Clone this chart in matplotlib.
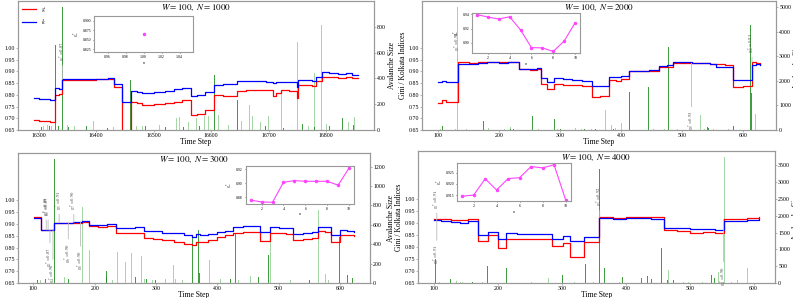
import matplotlib
matplotlib.use('Agg')
import matplotlib.pyplot as plt

plt.rcParams['font.family'] = 'Liberation Serif'
plt.rcParams['mathtext.fontset'] = 'stix'

# ---- panel 1: W=100, N=1000 ----
t1 = [16292, 16300, 16310, 16320, 16329, 16335, 16341, 16360, 16380, 16400, 16420, 16431, 16444,
      16460, 16470, 16480, 16500, 16520, 16535, 16550, 16564, 16575, 16590, 16605, 16620, 16635,
      16645, 16660, 16680, 16695, 16708, 16713, 16722, 16735, 16749, 16751, 16765, 16775, 16783,
      16792, 16805, 16820, 16835, 16845, 16855]
k1 = [0.785, 0.784, 0.782, 0.780, 0.828, 0.826, 0.866, 0.867, 0.866, 0.868, 0.870, 0.845, 0.770,
      0.815, 0.812, 0.808, 0.811, 0.815, 0.823, 0.828, 0.795, 0.800, 0.810, 0.843, 0.846, 0.848,
      0.858, 0.861, 0.860, 0.855, 0.852, 0.856, 0.855, 0.853, 0.835, 0.865, 0.862, 0.858, 0.875,
      0.898, 0.894, 0.890, 0.892, 0.886, 0.885]
g1 = [0.692, 0.690, 0.687, 0.685, 0.800, 0.803, 0.864, 0.864, 0.863, 0.866, 0.868, 0.833, 0.640,
      0.768, 0.766, 0.758, 0.760, 0.763, 0.770, 0.776, 0.712, 0.720, 0.735, 0.800, 0.793, 0.794,
      0.818, 0.820, 0.821, 0.820, 0.795, 0.808, 0.820, 0.818, 0.785, 0.843, 0.840, 0.838, 0.858,
      0.878, 0.876, 0.873, 0.875, 0.871, 0.870]
dark1_t = [16305, 16318, 16329, 16335, 16341, 16352, 16383, 16420, 16446, 16460, 16485, 16520, 16552,
           16580, 16605, 16646, 16694, 16725, 16758, 16780, 16805, 16828, 16848]
dark1_h = [20, 30, 660, 30, 955, 20, 30, 15, 40, 385, 30, 20, 25, 30, 430, 230, 30, 15, 50, 25, 30, 90, 40]
light1_t = [16308, 16315, 16322, 16350, 16362, 16370, 16395, 16410, 16430, 16470, 16480, 16497, 16510,
            16530, 16540, 16545, 16560, 16575, 16588, 16595, 16612, 16617, 16630, 16652, 16667, 16672,
            16685, 16700, 16722, 16750, 16770, 16779, 16792, 16800, 16817, 16838, 16850]
light1_h = [30, 40, 30, 40, 30, 70, 70, 40, 20, 30, 30, 40, 40, 60, 90, 100, 60, 90, 110, 110, 120, 110,
            40, 70, 190, 110, 60, 110, 280, 680, 30, 440, 815, 50, 380, 60, 100]
ins1_n = [1]
ins1_g = [0.865]
ann1 = [(16341, 0.865, 0.985, '$g_1^* = 0.87$')]

# ---- panel 2: W=100, N=2000 ----
t2 = [100, 106, 113, 132, 150, 165, 180, 200, 215, 232, 250, 262, 269, 279, 289, 305, 320, 335, 352, 365,
      380, 391, 400, 413, 430, 445, 462, 475, 484, 500, 515, 530, 545, 555, 570, 583, 600, 614, 620, 627]
k2 = [0.853, 0.860, 0.854, 0.933, 0.930, 0.937, 0.938, 0.936, 0.938, 0.912, 0.910, 0.913, 0.870, 0.855,
      0.872, 0.868, 0.864, 0.860, 0.836, 0.838, 0.874, 0.878, 0.880, 0.900, 0.901, 0.905, 0.922, 0.925,
      0.940, 0.938, 0.936, 0.935, 0.933, 0.920, 0.918, 0.865, 0.862, 0.928, 0.930, 0.928]
g2 = [0.765, 0.780, 0.770, 0.938, 0.936, 0.940, 0.938, 0.940, 0.941, 0.909, 0.907, 0.910, 0.845, 0.823,
      0.848, 0.842, 0.840, 0.838, 0.792, 0.794, 0.862, 0.858, 0.866, 0.900, 0.902, 0.903, 0.919, 0.920,
      0.935, 0.936, 0.934, 0.935, 0.932, 0.930, 0.928, 0.834, 0.836, 0.938, 0.934, 0.933]
dark2_t = [107, 175, 218, 223, 255, 290, 301, 340, 357, 388, 414, 445, 477, 541, 543, 560, 583, 612, 614]
dark2_h = [160, 360, 60, 40, 560, 440, 30, 30, 40, 60, 1555, 1770, 3390, 130, 100, 60, 160, 4290, 1500]
light2_t = [104, 118, 128, 132, 146, 167, 182, 195, 208, 219, 236, 265, 280, 296, 318, 325, 335, 352, 374,
            384, 391, 400, 433, 452, 470, 492, 510, 529, 537, 551, 575, 600, 620]
light2_h = [40, 20, 30, 5000, 30, 1730, 90, 20, 40, 130, 20, 30, 40, 30, 20, 90, 40, 30, 800, 190, 90, 300,
            20, 60, 30, 50, 20, 630, 40, 30, 30, 20, 670]
ins2_n = [1, 2, 3, 4, 5, 6, 7, 8, 9, 10]
ins2_g = [0.9395, 0.936, 0.9333, 0.9364, 0.918, 0.8933, 0.893, 0.888, 0.9025, 0.928]
ann2 = [(132, 0.938, 1.03, '$g_1^* = 0.94$'), (515, 0.935, 0.69, '$g_8^* = 0.93$'),
        (614, 0.938, 1.02, '$g_{10}^* = 0.93$')]

# ---- panel 3: W=100, N=3000 ----
t3 = [101, 112, 123, 134, 150, 165, 180, 191, 205, 220, 234, 250, 265, 280, 295, 310, 329, 345, 359, 365,
      372, 385, 400, 413, 426, 442, 455, 470, 486, 500, 512, 524, 540, 555, 565, 576, 586, 600, 612, 623]
k3 = [0.925, 0.873, 0.875, 0.903, 0.905, 0.906, 0.912, 0.897, 0.896, 0.900, 0.882, 0.884, 0.886, 0.872,
      0.868, 0.863, 0.860, 0.852, 0.843, 0.858, 0.853, 0.858, 0.866, 0.872, 0.886, 0.893, 0.890, 0.866,
      0.888, 0.884, 0.882, 0.857, 0.860, 0.866, 0.888, 0.886, 0.852, 0.873, 0.870, 0.866]
g3 = [0.928, 0.874, 0.873, 0.903, 0.904, 0.905, 0.910, 0.890, 0.889, 0.891, 0.860, 0.861, 0.860, 0.840,
      0.835, 0.830, 0.822, 0.815, 0.810, 0.825, 0.822, 0.830, 0.845, 0.852, 0.862, 0.866, 0.865, 0.826,
      0.860, 0.861, 0.858, 0.833, 0.836, 0.842, 0.868, 0.866, 0.824, 0.852, 0.853, 0.848]
dark3_t = [106, 120, 135, 158, 219, 220, 266, 285, 299, 359, 370, 371, 421, 429, 467, 484, 551, 600, 613, 621]
dark3_h = [30, 40, 1275, 40, 124, 60, 60, 40, 30, 460, 550, 100, 40, 500, 60, 286, 30, 476, 80, 50]
light3_t = [112, 150, 180, 191, 229, 237, 250, 260, 276, 281, 294, 315, 328, 332, 344, 387, 405, 435, 454,
            486, 519, 565, 576, 581]
light3_h = [30, 60, 786, 345, 30, 320, 217, 310, 280, 40, 30, 40, 190, 40, 30, 234, 40, 30, 70, 527, 30,
            750, 97, 30]
ins3_n = [1, 2, 3, 4, 5, 6, 7, 8, 9, 10]
ins3_g = [0.8756, 0.873, 0.8725, 0.901, 0.9035, 0.9025, 0.9025, 0.9025, 0.897, 0.9215]
ann3 = [(121, 0.874, 0.975, '$g_2^* = 0.88$'), (124, 0.874, 0.975, '$g_3^* = 0.87$'),
        (142, 0.905, 1.0, '$g_5^* = 0.91$'), (166, 0.905, 1.0, '$g_7^* = 0.90$'),
        (127, 0.873, 0.76, '$g_1^* = 0.87$'), (132, 0.873, 0.69, '$g_4^* = 0.90$'),
        (157, 0.905, 0.777, '$g_6^* = 0.90$'), (177, 0.910, 0.746, '$g_8^* = 0.90$')]

# ---- panel 4: W=100, N=4000 ----
t4 = [100, 110, 126, 140, 153, 168, 184, 200, 213, 230, 250, 270, 284, 301, 313, 334, 358, 380, 400, 420,
      440, 460, 480, 500, 520, 540, 553, 570, 590, 608]
k4 = [0.913, 0.910, 0.905, 0.900, 0.909, 0.849, 0.863, 0.835, 0.857, 0.856, 0.855, 0.853, 0.835, 0.846,
      0.825, 0.843, 0.919, 0.918, 0.920, 0.922, 0.918, 0.880, 0.881, 0.874, 0.873, 0.871, 0.908, 0.910,
      0.913, 0.916]
g4 = [0.915, 0.916, 0.913, 0.911, 0.916, 0.825, 0.849, 0.797, 0.832, 0.834, 0.833, 0.835, 0.804, 0.818,
      0.758, 0.821, 0.923, 0.922, 0.925, 0.926, 0.924, 0.870, 0.866, 0.860, 0.861, 0.858, 0.916, 0.918,
      0.920, 0.923]
dark4_t = [102, 126, 160, 184, 213, 301, 337, 359, 367, 395, 424, 434, 440, 455, 465, 474, 534, 538]
dark4_h = [704, 120, 40, 503, 453, 250, 573, 3400, 433, 170, 150, 200, 120, 1046, 100, 80, 230, 150]
light4_t = [109, 135, 141, 145, 160, 175, 252, 279, 320, 350, 390, 467, 490, 498, 520, 545, 554, 566, 574, 590]
light4_h = [30, 60, 40, 30, 30, 20, 20, 150, 40, 20, 30, 400, 40, 30, 20, 320, 3740, 40, 100, 450]
ins4_n = [1, 2, 3, 4, 5, 6, 7, 8, 9, 10]
ins4_g = [0.9145, 0.915, 0.9223, 0.9173, 0.9224, 0.9228, 0.9278, 0.9272, 0.9286, 0.9130]
ann4 = [(104, 0.913, 1.0, '$g_1^* = 0.91$'), (104, 0.913, 0.77, '$g_2^* = 0.91$'),
        (359, 0.923, 1.01, '$g_3^* = 0.92$'), (553, 0.916, 0.68, '$g_4^* = 0.90$')]

titles = ['$W = 100,\\ N = 1000$', '$W = 100,\\ N = 2000$',
          '$W = 100,\\ N = 3000$', '$W = 100,\\ N = 4000$']
xticks = [range(16300, 16801, 100), range(100, 601, 100), range(100, 601, 100), range(100, 601, 100)]
right_ticks = [range(0, 801, 200), range(0, 5001, 1000), range(0, 1201, 200), range(0, 3501, 500)]
right_max = [1000, 5250, 1340, 3930]

# layout in pixels (x0, x1, top, bottom) of the 793x298 figure
W, H = 793.0, 298.0
main_px = [(18, 374, 1, 130), (422, 776, 1, 130), (18, 370, 153, 283), (418, 775, 151, 283)]
inset_px = [(94, 193, 15.7, 52.3), (472, 580, 12.7, 53.3), (245.7, 354, 166.3, 204), (457, 570.7, 163, 201.3)]

def rect(p):
    x0, x1, top, bot = p
    return [x0 / W, 1 - bot / H, (x1 - x0) / W, (bot - top) / H]

panels = [
    (t1, g1, k1, dark1_t, dark1_h, light1_t, light1_h, ins1_n, ins1_g, ann1),
    (t2, g2, k2, dark2_t, dark2_h, light2_t, light2_h, ins2_n, ins2_g, ann2),
    (t3, g3, k3, dark3_t, dark3_h, light3_t, light3_h, ins3_n, ins3_g, ann3),
    (t4, g4, k4, dark4_t, dark4_h, light4_t, light4_h, ins4_n, ins4_g, ann4),
]

spine_col = '#999999'
fig = plt.figure(figsize=(7.93, 2.98), dpi=100)

for i, (t, g, k, dt, dh, lt, lh, n_ins, g_ins, ann) in enumerate(panels):
    ax = fig.add_axes(rect(main_px[i]))
    ax2 = ax.twinx()
    ax.set_zorder(ax2.get_zorder() + 1)
    ax.patch.set_visible(False)

    # avalanche bars on the right axis
    ax2.bar(lt, lh, width=1.6, color='#5cb85c', alpha=0.55, linewidth=0)
    ax2.bar(dt, dh, width=1.6, color='#1e8c1e', alpha=0.85, linewidth=0)
    ax2.set_ylim(0, right_max[i])
    ax2.set_yticks(list(right_ticks[i]))
    ax2.set_ylabel('Avalanche Size', fontsize=5.5, labelpad=1.5)

    ax.plot(t, g, drawstyle='steps-post', color='red', lw=0.9, label='$g$')
    ax.plot(t, k, drawstyle='steps-post', color='blue', lw=0.9, label='$k$')
    ax.set_ylim(0.65, 1.2)
    ax.set_yticks([0.65, 0.70, 0.75, 0.80, 0.85, 0.90, 0.95, 1.00])
    ax.set_xticks(list(xticks[i]))
    ax.set_xlabel('Time Step', fontsize=5.5, labelpad=0)
    ax.set_ylabel('Gini / Kolkata Indices', fontsize=5.5, labelpad=1)
    ax.text(0.5, 0.985, titles[i], transform=ax.transAxes, ha='center', va='top', fontsize=6.5)

    for tt, yp, yt, lab in ann:
        ax.annotate(lab, xy=(tt, yp), xytext=(tt, yt), rotation=90, ha='center', va='center',
                    fontsize=3.3, color='#444444',
                    arrowprops=dict(arrowstyle='-', color='#bbbbbb', lw=0.6, shrinkA=1, shrinkB=0))

    for a in (ax, ax2):
        for s in a.spines.values():
            s.set_color(spine_col)
            s.set_linewidth(0.8)
        a.tick_params(labelsize=4.2, length=1.5, width=0.5, color=spine_col, pad=0.8)

    if i == 0:
        ax.legend(loc='upper left', fontsize=4.5, frameon=False, handlelength=2.2, borderaxespad=0.3)

    # inset with g* against n
    axi = fig.add_axes(rect(inset_px[i]))
    axi.plot(n_ins, g_ins, color='#ff44ff', lw=0.8, marker='o', markersize=1.5)
    axi.set_xlabel('$n$', fontsize=3, labelpad=0.5)
    axi.set_ylabel('$g_n^*$', fontsize=3, labelpad=0.5)
    axi.tick_params(labelsize=2.8, length=1, width=0.4, pad=1)
    if i > 0:
        axi.set_xticks([2, 4, 6, 8, 10])
    for s in axi.spines.values():
        s.set_color(spine_col)
        s.set_linewidth(0.8)

fig.savefig('out.png', dpi=100)
